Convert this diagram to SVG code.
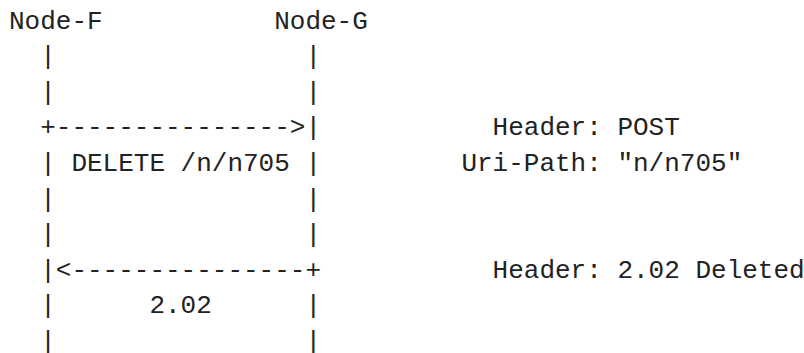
<svg xmlns="http://www.w3.org/2000/svg" width="804" height="353" viewBox="0 0 804 353">
<style>
text{font-family:"Liberation Mono","DejaVu Sans Mono",monospace;font-size:26px;fill:#222;white-space:pre}
</style>
<rect width="804" height="353" fill="#fff"/>
<g id="node-f">
<text x="9" y="28.6">Node-F</text>
<text x="40.2" y="64.2">|</text>
<text x="40.2" y="99.8">|</text>
<text x="40.2" y="171">|</text>
<text x="40.2" y="206.6">|</text>
<text x="40.2" y="242.2">|</text>
<text x="40.2" y="313.4">|</text>
<text x="40.2" y="349">|</text>
</g>
<g id="node-g">
<text x="274.2" y="28.6">Node-G</text>
<text x="305.4" y="64.2">|</text>
<text x="305.4" y="99.8">|</text>
<text x="305.4" y="135.4">|</text>
<text x="305.4" y="171">|</text>
<text x="305.4" y="206.6">|</text>
<text x="305.4" y="242.2">|</text>
<text x="305.4" y="313.4">|</text>
<text x="305.4" y="349">|</text>
</g>
<g id="connectors">
<text x="40.2" y="135.4">+---------------&gt;</text>
<text x="71.4" y="171">DELETE /n/n705</text>
<text x="40.2" y="277.8">|&lt;---------------+</text>
<text x="149.4" y="313.4">2.02</text>
</g>
<g id="notes">
<text x="492.6" y="135.4">Header: POST</text>
<text x="461.4" y="171">Uri-Path: "n/n705"</text>
<text x="492.6" y="277.8">Header: 2.02 Deleted</text>
</g>
</svg>
